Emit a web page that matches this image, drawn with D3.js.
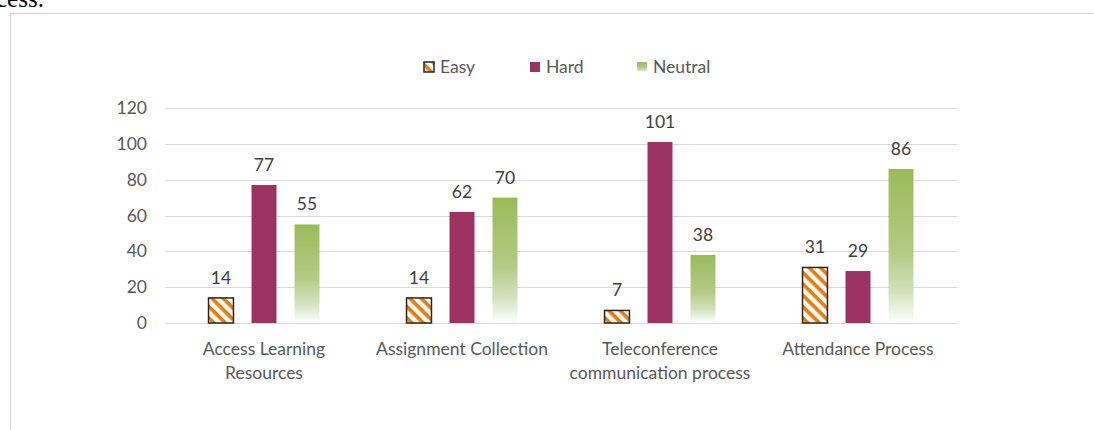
<!DOCTYPE html>
<html>
<head>
<meta charset="utf-8">
<script src="https://cdn.jsdelivr.net/npm/d3@7"></script>
<style>
  body { margin: 0; background: #fff; }
  svg { display: block; }
</style>
</head>
<body>
<svg id="chart" width="1094" height="430"></svg>
<script>
// chart data
var categories = ["Access Learning Resources", "Assignment Collection", "Teleconference communication process", "Attendance Process"];
var tickLabels = [["Access Learning", "Resources"], ["Assignment Collection"], ["Teleconference", "communication process"], ["Attendance Process"]];
var series = ["Easy", "Hard", "Neutral"];
var easyValues = [14, 14, 7, 31];
var hardValues = [77, 62, 101, 29];
var neutralValues = [55, 70, 38, 86];
var yTicks = [0, 20, 40, 60, 80, 100, 120];

var values = { Easy: easyValues, Hard: hardValues, Neutral: neutralValues };
var font = "Lato, 'Open Sans', sans-serif";
var fsize = "17.5px";

var svg = d3.select("#chart");
var defs = svg.append("defs");

// orange diagonal hatch for Easy (stripes run top-left to bottom-right)
var pat = defs.append("pattern")
	.attr("id", "hatch")
	.attr("patternUnits", "userSpaceOnUse")
	.attr("width", 8)
	.attr("height", 8)
	.attr("patternTransform", "rotate(45)");
pat.append("rect").attr("width", 8).attr("height", 8).attr("fill", "#fff");
pat.append("rect").attr("x", 0).attr("y", 0).attr("width", 8).attr("height", 3.6).attr("fill", "#F07800");

// green fade for Neutral
var grad = defs.append("linearGradient")
	.attr("id", "fade")
	.attr("x1", 0).attr("y1", 0).attr("x2", 0).attr("y2", 1);
grad.append("stop").attr("offset", "0").attr("stop-color", "#9BBB59");
grad.append("stop").attr("offset", "0.55").attr("stop-color", "#B3CB85");
grad.append("stop").attr("offset", "0.8").attr("stop-color", "#D4E2BC");
grad.append("stop").attr("offset", "1").attr("stop-color", "#ffffff");

var fills = { Easy: "url(#hatch)", Hard: "#9B3262", Neutral: "url(#fade)" };

// cropped text from the page above
svg.append("text")
	.attr("x", -4)
	.attr("y", 7)
	.text("cess.")
	.style("font-family", "'Liberation Serif', serif")
	.style("font-size", "25px")
	.attr("fill", "#000");

// chart frame
svg.append("rect")
	.attr("x", 10.5)
	.attr("y", 13.5)
	.attr("width", 1200)
	.attr("height", 600)
	.attr("fill", "none")
	.attr("stroke", "#d9d9d9")
	.attr("stroke-width", 1.5);

var x0 = d3.scaleBand().domain(categories).range([165, 957]);
// keep bar step at 43px around the band centre
var x1 = d3.scaleBand().domain(series)
	.range([x0.bandwidth() / 2 - 64.5, x0.bandwidth() / 2 + 64.5])
	.paddingInner(0.42)
	.paddingOuter(0.21);

var y = d3.scaleLinear().domain([0, 120]).range([323, 108]);

// gridlines
svg.append("g")
	.selectAll("line")
	.data(yTicks)
	.enter().append("line")
	.attr("x1", 165)
	.attr("x2", 957)
	.attr("y1", function(d) { return Math.round(y(d)) + 0.5; })
	.attr("y2", function(d) { return Math.round(y(d)) + 0.5; })
	.attr("stroke", "#d9d9d9")
	.attr("stroke-width", 1.2);

// y axis labels
var yAxis = svg.append("g")
	.attr("transform", "translate(160,0)")
	.call(d3.axisLeft(y).tickValues(yTicks).tickSize(0).tickPadding(13));
yAxis.select(".domain").remove();
yAxis.selectAll("text")
	.style("font-family", font)
	.style("font-size", fsize)
	.attr("fill", "#595959");

// bars
var groups = svg.selectAll("g.cat")
	.data(categories)
	.enter().append("g")
	.attr("class", "cat")
	.attr("transform", function(d) { return "translate(" + x0(d) + ",0)"; });

groups.selectAll("rect")
	.data(function(d, i) { return series.map(function(s) { return { s: s, v: values[s][i] }; }); })
	.enter().append("rect")
	.attr("x", function(d) { return x1(d.s); })
	.attr("y", function(d) { return y(d.v); })
	.attr("width", x1.bandwidth())
	.attr("height", function(d) { return y(0) - y(d.v); })
	.attr("fill", function(d) { return fills[d.s]; })
	.attr("stroke", function(d) { return d.s == "Easy" ? "#262626" : "none"; })
	.attr("stroke-width", 1.5);

// value labels
groups.selectAll("text.val")
	.data(function(d, i) { return series.map(function(s) { return { s: s, v: values[s][i] }; }); })
	.enter().append("text")
	.attr("class", "val")
	.attr("x", function(d) { return x1(d.s) + x1.bandwidth() / 2; })
	.attr("y", function(d) { return y(d.v) - 14; })
	.attr("text-anchor", "middle")
	.text(function(d) { return d.v; })
	.style("font-family", font)
	.style("font-size", fsize)
	.attr("fill", "#404040");

// category labels
var xlab = svg.selectAll("text.cat")
	.data(categories)
	.enter().append("text")
	.attr("class", "cat")
	.attr("text-anchor", "middle")
	.attr("x", function(d) { return x0(d) + x0.bandwidth() / 2; })
	.attr("y", 355)
	.style("font-family", font)
	.style("font-size", fsize)
	.attr("fill", "#595959");
xlab.selectAll("tspan")
	.data(function(d, i) { return tickLabels[i]; })
	.enter().append("tspan")
	.attr("x", function() { return d3.select(this.parentNode).attr("x"); })
	.attr("dy", function(d, i) { return i == 0 ? 0 : 24; })
	.text(function(d) { return d; });

// legend
var legendX = [424, 530, 637];
var legend = svg.selectAll("g.legend")
	.data(series)
	.enter().append("g")
	.attr("class", "legend")
	.attr("transform", function(d, i) { return "translate(" + legendX[i] + ",62)"; });
legend.append("rect")
	.attr("width", 10)
	.attr("height", 10)
	.attr("fill", function(d) { return fills[d]; })
	.attr("stroke", function(d) { return d == "Easy" ? "#262626" : "none"; })
	.attr("stroke-width", 1.5);
legend.append("text")
	.attr("x", 16)
	.attr("y", 11)
	.text(function(d) { return d; })
	.style("font-family", font)
	.style("font-size", fsize)
	.attr("fill", "#595959");
</script>
</body>
</html>
